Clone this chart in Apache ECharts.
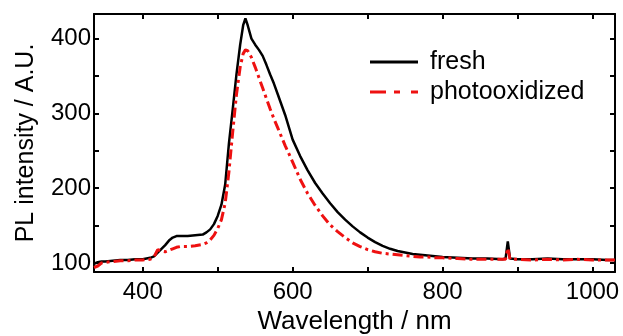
<!DOCTYPE html>
<html>
<head>
<meta charset="utf-8">
<script src="https://cdn.jsdelivr.net/npm/echarts@6/dist/echarts.min.js"></script>
<style>html,body{margin:0;padding:0;background:#fff;}#c{width:623px;height:336px;}</style>
</head>
<body>
<div id="c"></div>
<script>
const wavelength = [335,340,345,350,360,370,380,390,400,410,415,420,425,430,435,440,445,450,460,470,480,485,490,495,500,505,510,515,520,525,530,534,537,540,545,550,555,560,565,570,575,580,590,600,610,620,630,640,650,660,670,680,690,700,710,720,730,740,750,760,770,780,790,800,820,840,860,880,884,887,890,900,920,940,960,980,1000,1020,1030];
const fresh = [99,101,102,102,103,104,104,105,105,107,109,114,119,124,130,134,136,136,136,137,138,141,145,152,163,178,205,260,305,352,392,418,427,418,400,392,385,377,365,352,340,326,298,265,243,224,207,193,180,168,158,149,141,134,128,123,119,116,114,112,111,110,109,108,107,106,106,105,106,129,106,105,105,106,105,105,105,104,104];
const photooxidized = [94,96,100,101,102,103,103,104,104,105,108,118,116,115,117,119,121,122,122,123,125,127,131,137,146,158,180,222,275,325,362,380,385,384,375,362,348,334,320,306,293,281,257,235,212,193,177,163,151,142,134,127,122,118,115,113,112,111,110,109,108,108,107,107,106,105,105,105,105,120,105,105,104,105,104,105,104,104,104];
const xLabelValues = [400,600,800,1000];
const xTickValues = [400,500,600,700,800,900,1000];
const yLabelValues = [100,200,300,400];
const yTickValues = [100,150,200,250,300,350,400];
const seriesNames = ['fresh','photooxidized'];

const chart = echarts.init(document.getElementById('c'), null, {renderer:'canvas'});
const FONT = 'Liberation Sans';
const lineAx = {show:true, lineStyle:{color:'#000', width:2}};
const tickAx = {show:true, inside:true, length:5, lineStyle:{color:'#000', width:2}};
const xMin = 335, xMax = 1030, yMin = 88, yMax = 433;
const RED = '#ee1111';

chart.setOption({
  animation:false,
  backgroundColor:'#fff',
  textStyle:{fontFamily:FONT},
  grid:{left:94, right:8, top:14, bottom:64, containLabel:false, outerBoundsMode:'none'},
  legend:{
    orient:'vertical', left:370, top:49, padding:0,
    itemWidth:48, itemHeight:3, itemGap:4, itemTextGap:12,
    textStyle:{fontFamily:FONT, fontSize:25, color:'#000', lineHeight:26, padding:[0,0,0,7]},
    data:[
      {name:seriesNames[0], icon:'path://M0,0H48V3H0Z'},
      {name:seriesNames[1], icon:'path://M0,0H16V3H0Z M24,0H30V3H24Z M41,0H48V3H41Z'}
    ]
  },
  xAxis:[
    {type:'value', min:xMin, max:xMax, position:'bottom',
     name:'Wavelength / nm', nameLocation:'middle', nameGap:34,
     nameTextStyle:{fontFamily:FONT, fontSize:26, color:'#000'},
     axisLine:lineAx, axisTick:Object.assign({customValues:xTickValues}, tickAx),
     axisLabel:{customValues:xLabelValues, formatter:v=>String(v), fontFamily:FONT, fontSize:24, color:'#000', margin:8},
     splitLine:{show:false}},
    {type:'value', min:xMin, max:xMax, position:'top',
     axisLine:lineAx, axisTick:Object.assign({customValues:xTickValues}, tickAx),
     axisLabel:{show:false}, splitLine:{show:false}}
  ],
  yAxis:[
    {type:'value', min:yMin, max:yMax, position:'left',
     name:'PL intensity / A.U.', nameLocation:'middle', nameGap:55, nameRotate:90,
     nameTextStyle:{fontFamily:FONT, fontSize:25, color:'#000'},
     axisLine:lineAx, axisTick:Object.assign({customValues:yTickValues}, tickAx),
     axisLabel:{customValues:yLabelValues, formatter:v=>String(v), fontFamily:FONT, fontSize:24, color:'#000', margin:3},
     splitLine:{show:false}},
    {type:'value', min:yMin, max:yMax, position:'right',
     axisLine:lineAx, axisTick:Object.assign({customValues:yTickValues}, tickAx),
     axisLabel:{show:false}, splitLine:{show:false}}
  ],
  series:[
    {name:seriesNames[0], type:'line', xAxisIndex:0, yAxisIndex:0, showSymbol:false, symbol:'none',
     color:'#000', lineStyle:{color:'#000', width:2.5}, z:2,
     data:wavelength.map((w,i)=>[w,fresh[i]])},
    {name:seriesNames[1], type:'line', xAxisIndex:0, yAxisIndex:0, showSymbol:false, symbol:'none',
     color:RED, lineStyle:{color:RED, width:3, type:[10,4,3,4]}, z:3,
     data:wavelength.map((w,i)=>[w,photooxidized[i]])}
  ]
});
</script>
</body>
</html>
